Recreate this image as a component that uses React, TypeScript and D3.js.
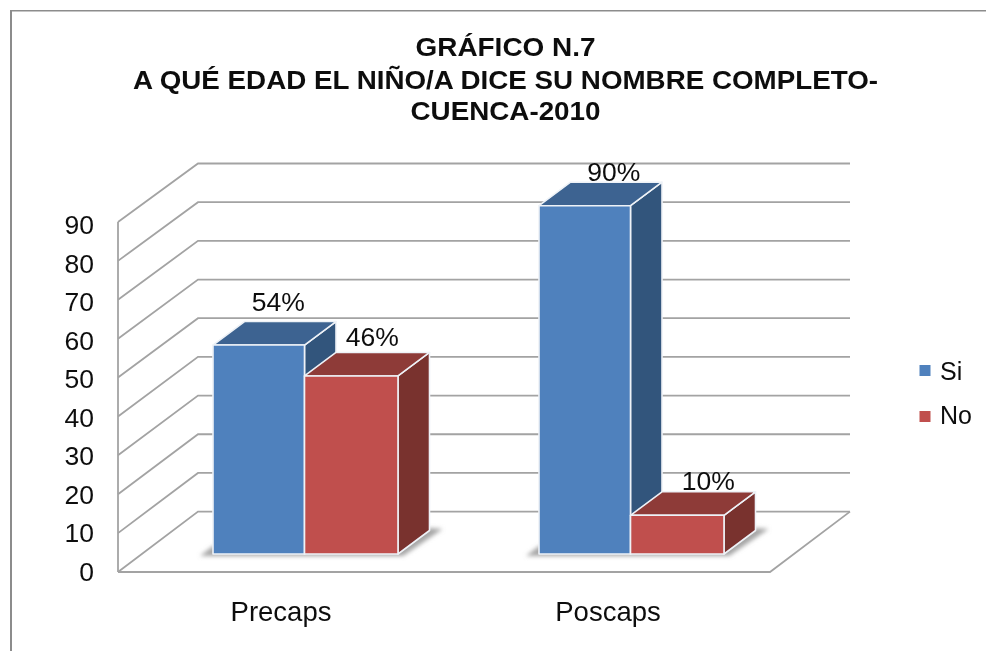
import React from "react";
import * as d3 from "d3";

const titleLines = ["GRÁFICO N.7", "A QUÉ EDAD EL NIÑO/A DICE SU NOMBRE COMPLETO-", "CUENCA-2010"];
const categories = ["Precaps", "Poscaps"];
const seriesNames = ["Si", "No"];
const siValues = [54, 90];
const noValues = [46, 10];
const tickValues = [0, 10, 20, 30, 40, 50, 60, 70, 80, 90];

const faces = [
  { front: "#4f81bd", top: "#3d6491", side: "#33547b" },
  { front: "#c0504d", top: "#8e3a38", side: "#79302e" },
];

const W = 986;
const H = 651;
const dx = 31.5;
const dy = 23.5;
const yFront = d3.scaleLinear().domain([0, 90]).range([572, 222]);
const yBack = d3.scaleLinear().domain([0, 90]).range([511.6, 163.5]);
const yBar = d3.scaleLinear().domain([0, 90]).range([554, 205.7]);
const yLabel = d3.scaleLinear().domain([0, 90]).range([581, 234]);
const xCat = d3.scaleOrdinal<string, number>().domain(categories).range([213, 539]);
const barW = [91.5, 93.5];
const labelShift = [
  [[19.5, -11], [21, -6.5]],
  [[29, -1.5], [31, -2]],
];
const pts = (p: number[][]) => p.map((q) => q.join(",")).join(" ");

export default function App() {
  const grey = "#a3a3a3";
  const font = "'Liberation Sans', Arial, sans-serif";
  const titleLayout = [
    { y: 56, len: 180 },
    { y: 88.5, len: 745 },
    { y: 120, len: 190 },
  ];
  return (
    <svg width={W} height={H} viewBox={`0 0 ${W} ${H}`} style={{ position: "absolute", left: 0, top: 0, background: "#fff" }}>
      <defs>
        <filter id="soft" x="-5%" y="-5%" width="110%" height="110%">
          <feGaussianBlur stdDeviation="0.45" />
        </filter>
        <filter id="shadow" x="-20%" y="-20%" width="140%" height="140%">
          <feGaussianBlur stdDeviation="2" />
        </filter>
      </defs>
      <rect x={10} y={10} width={2} height={H - 10} fill="#8c8c8c" />
      <rect x={10} y={10} width={W - 10} height={1.5} fill="#8c8c8c" />
      <g filter="url(#soft)">
        <g fill="none" stroke={grey} strokeWidth={1.8}>
          {tickValues.map((t) => (
            <polyline key={t} points={pts([[118, yFront(t)], [198, yBack(t)], [850, yBack(t)]])} />
          ))}
          <line x1={118} x2={118} y1={yFront(90)} y2={yFront(0)} />
          <polyline points={pts([[118, yFront(0)], [770, yFront(0)], [850, yBack(0)]])} />
        </g>
        {categories.map((c, i) => {
          const vals = [siValues[i], noValues[i]];
          const x0 = xCat(c);
          const xr = x0 + barW[0] + barW[1];
          return (
            <g key={c}>
              <polygon
                points={pts([[x0 - 13, 556], [x0, 546], [xr, 546], [xr + dx, 528], [xr + dx + 13, 529], [xr + 5, 556]])}
                fill="#a6a6a6"
                filter="url(#shadow)"
              />
              {vals.map((v, s) => {
                const x = s === 0 ? x0 : x0 + barW[0];
                const w = barW[s];
                const top = yBar(v);
                const base = yBar(0);
                const f = faces[s];
                return (
                  <g key={s} stroke="#eef2f7" strokeWidth={1.6} strokeLinejoin="round">
                    <polygon points={pts([[x + w, top], [x + w + dx, top - dy], [x + w + dx, base - dy], [x + w, base]])} fill={f.side} />
                    <polygon points={pts([[x, top], [x + dx, top - dy], [x + w + dx, top - dy], [x + w, top]])} fill={f.top} />
                    <rect x={x} y={top} width={w} height={base - top} fill={f.front} />
                  </g>
                );
              })}
            </g>
          );
        })}
      </g>
      <g fontFamily={font} fill="#111" filter="url(#soft)">
        <g fontWeight="bold" fontSize={25.5} textAnchor="middle">
          {titleLines.map((t, i) => (
            <text key={t} x={505.5} y={titleLayout[i].y} textLength={titleLayout[i].len} lengthAdjust="spacingAndGlyphs">{t}</text>
          ))}
        </g>
        <g fontSize={26.5} textAnchor="end">
          {tickValues.map((t) => (
            <text key={t} x={94} y={yLabel(t)}>{t}</text>
          ))}
        </g>
        <g fontSize={27.5} textAnchor="middle">
          {categories.map((c, i) => (
            <text key={c} x={[281, 608][i]} y={621}>{c}</text>
          ))}
        </g>
        <g fontSize={26.5} textAnchor="middle">
          {categories.map((c, i) =>
            [siValues[i], noValues[i]].map((v, s) => {
              const x = (s === 0 ? xCat(c) : xCat(c) + barW[0]) + barW[s] / 2 + labelShift[i][s][0];
              return (
                <text key={c + s} x={x} y={yBar(v) - dy + labelShift[i][s][1]}>{v}%</text>
              );
            })
          )}
        </g>
        {seriesNames.map((n, i) => (
          <g key={n}>
            <rect x={919.5} y={[365, 411][i]} width={11} height={11} fill={faces[i].front} />
            <text x={940} y={[380, 424][i]} fontSize={25}>{n}</text>
          </g>
        ))}
      </g>
    </svg>
  );
}
